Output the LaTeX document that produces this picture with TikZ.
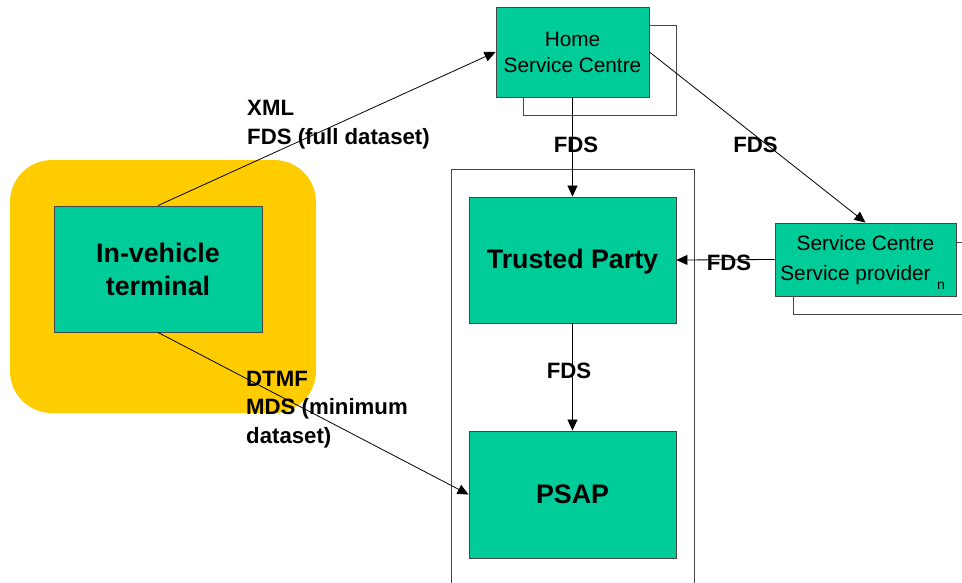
\documentclass[tikz,border=0pt]{standalone}
\usepackage{fontspec}
\setmainfont{Liberation Sans}
\usetikzlibrary{arrows.meta}
\definecolor{boxgreen}{RGB}{0,204,153}
\definecolor{carYellow}{RGB}{255,204,0}
\definecolor{edgegray}{RGB}{70,70,70}
\tikzset{
  unit/.style={draw=edgegray, line width=0.9pt, fill=boxgreen, inner sep=0pt, align=center},
  backframe/.style={draw=edgegray, line width=0.9pt},
  link/.style={draw=black, line width=0.8pt, -{Triangle[length=11pt,width=10pt]}},
  tag/.style={font=\fontsize{22.2}{28.5}\selectfont\bfseries, inner sep=0pt, align=left},
  bigtitle/.style={font=\fontsize{26.8}{33}\selectfont\bfseries},
  plaintitle/.style={font=\fontsize{20.8}{26}\selectfont}
}
\begin{document}
\begin{tikzpicture}[x=1pt,y=-1pt]
\useasboundingbox (0,0) rectangle (962,582);

% vehicle surround
\fill[carYellow, rounded corners=42pt] (10,160) rectangle (316,413);

% outer frame round Trusted Party and PSAP
\draw[backframe] (451,169) rectangle (694,600);

% stacked frames behind the service centres
\draw[backframe] (523,25) rectangle (676,115);
\draw[backframe] (793,242) rectangle (980,314);

% units
\node[unit, bigtitle, minimum width=208pt, minimum height=126pt] (ivt) at (158,269) {In-vehicle\\terminal};
\node[unit, plaintitle, minimum width=153pt, minimum height=90pt] (home) at (572.5,52) {Home\\Service Centre};
\node[unit, minimum width=207pt, minimum height=126pt] (trust) at (572.5,260) {};
\node[bigtitle, inner sep=0pt] (trustT) at (572.5,262) {Trusted Party};
\node[unit, bigtitle, minimum width=207pt, minimum height=127pt] (psap) at (572.5,494.5) {PSAP};
\node[unit, minimum width=181pt, minimum height=73pt] (svc) at (865.5,259.5) {};
\node[plaintitle, inner sep=0pt] (svcA) at (865.5,243.5) {Service Centre};
\node[plaintitle, inner sep=0pt] (svcB) at (855.5,275.5) {Service provider};
\node[font=\fontsize{14}{16}\selectfont, inner sep=0pt] (svcN) at (941,286) {n};

% data flows
\draw[link] (ivt.north) -- (home.west);
\draw[link] (ivt.south) -- (psap.west);
\draw[link] (home.south) -- (trust.north);
\draw[link] (home.east) -- (svc.north);
\draw[link] (svc.west) -- (trust.east);
\draw[link] (trust.south) -- (psap.north);

% flow labels
\node[tag, anchor=west] (lxml) at (247,124.5) {XML\\FDS (full dataset)};
\node[tag, anchor=west] (ldtmf) at (246,409.5) {DTMF\\MDS (minimum\\dataset)};
\node[tag] (l1) at (576,145) {FDS};
\node[tag] (l2) at (755.5,145) {FDS};
\node[tag] (l3) at (729,263) {FDS};
\node[tag] (l4) at (569,371) {FDS};
\end{tikzpicture}
\end{document}
